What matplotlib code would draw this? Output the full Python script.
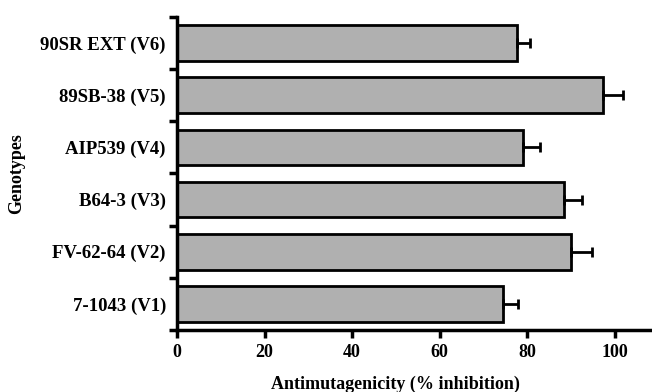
import matplotlib.pyplot as plt

# data (bottom to top)
genotypes = ["7-1043 (V1)", "FV-62-64 (V2)", "B64-3 (V3)", "AIP539 (V4)", "89SB-38 (V5)", "90SR EXT (V6)"]
inhibition = [74.4, 90.1, 88.4, 79.1, 97.3, 77.6]
err = [3.5, 4.6, 4.2, 3.9, 4.6, 3.1]

plt.rcParams['font.family'] = ['Liberation Serif', 'DejaVu Serif']
plt.rcParams['font.weight'] = 'bold'

fig = plt.figure(figsize=(6.52, 3.92), dpi=100)
ax = fig.add_axes([0.2715, 0.158, 0.7285, 0.799])

ypos = list(range(len(genotypes)))
ax.barh(ypos, inhibition, height=0.68, color="#b0b0b0", edgecolor="black", linewidth=2)
ax.errorbar(inhibition, ypos, xerr=[[0] * len(err), err], fmt='none', ecolor='black',
            elinewidth=2, capsize=3.5, capthick=2)

ax.set_xlim(0, 108.5)
ax.set_ylim(-0.5, len(genotypes) - 0.5)
ax.set_xticks([0, 20, 40, 60, 80, 100])
ax.set_yticks([i - 0.5 for i in range(len(genotypes) + 1)])
ax.set_yticklabels([])
ax.set_yticks(ypos, minor=True)
ax.set_yticklabels(genotypes, minor=True, fontsize=13.5)
ax.tick_params(axis='y', which='minor', length=0, pad=8)
ax.tick_params(axis='both', which='major', width=2.5, length=6, direction='out', labelsize=13)
ax.tick_params(axis='x', which='major', pad=4)

for s in ['top', 'right']:
    ax.spines[s].set_visible(False)
for s in ['left', 'bottom']:
    ax.spines[s].set_linewidth(2.5)

ax.set_xlabel("Antimutagenicity (% inhibition)", fontsize=13, fontweight='bold')
ax.xaxis.set_label_coords(50 / 108.5, -0.145)
ax.set_ylabel("Genotypes", fontsize=13, fontweight='bold')
ax.yaxis.set_label_coords(-0.32, 0.5)

fig.savefig("out.png", dpi=100)
